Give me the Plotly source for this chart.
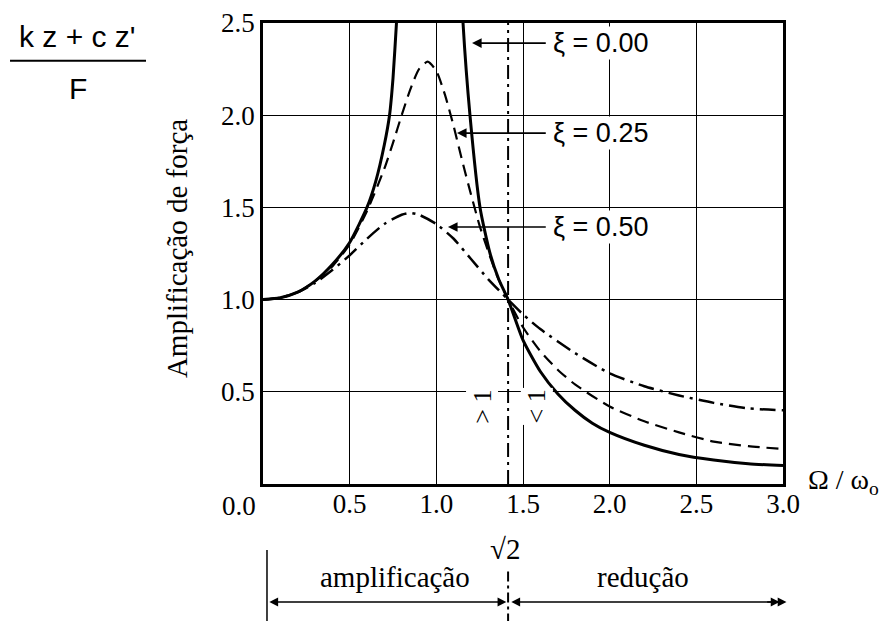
import plotly.graph_objects as go

# ---- data ----
r0_left = [0, 0.1, 0.2, 0.3, 0.4, 0.5, 0.6, 0.65, 0.7, 0.73, 0.75, 0.77, 0.79]
tr0_left = [1.00, 1.01, 1.04, 1.10, 1.19, 1.31, 1.50, 1.64, 1.84, 2.00, 2.20, 2.50, 2.80]
r0_right = [1.14, 1.154, 1.194, 1.252, 1.31, 1.36, 1.414, 1.5, 1.6, 1.7, 1.8, 1.9, 2.0, 2.2, 2.4, 2.6, 2.8, 3.0]
tr0_right = [2.80, 2.50, 2.00, 1.50, 1.25, 1.11, 1.00, 0.78, 0.61, 0.49, 0.40, 0.33, 0.28, 0.21, 0.16, 0.13, 0.11, 0.10]

r25 = [0, 0.1, 0.2, 0.3, 0.4, 0.5, 0.6, 0.7, 0.75, 0.8, 0.85, 0.9, 0.95, 1.0, 1.05, 1.1, 1.15,
       1.2, 1.25, 1.3, 1.35, 1.414, 1.5, 1.6, 1.7, 1.8, 2.0, 2.2, 2.4, 2.6, 2.8, 3.0]
tr25 = [1.00, 1.01, 1.04, 1.10, 1.18, 1.30, 1.48, 1.71, 1.85, 2.00, 2.14, 2.25, 2.29, 2.24, 2.11, 1.94, 1.75,
        1.57, 1.40, 1.26, 1.13, 1.00, 0.85, 0.72, 0.62, 0.54, 0.42, 0.34, 0.28, 0.23, 0.205, 0.19]

r50 = [0, 0.1, 0.2, 0.3, 0.4, 0.5, 0.6, 0.7, 0.8, 0.85, 0.9, 1.0, 1.1, 1.2, 1.3, 1.414,
       1.5, 1.6, 1.8, 2.0, 2.2, 2.4, 2.6, 2.8, 3.0]
tr50 = [1.00, 1.01, 1.04, 1.09, 1.16, 1.24, 1.33, 1.41, 1.46, 1.47, 1.46, 1.41, 1.33, 1.22, 1.11, 1.00,
        0.92, 0.84, 0.71, 0.60, 0.53, 0.48, 0.44, 0.41, 0.40]

xi_labels = ["ξ = 0.00", "ξ = 0.25", "ξ = 0.50"]
label_y = [2.391, 1.903, 1.394]
arrow_tip_x = [1.206, 1.119, 1.067]

x_ticks = [0.5, 1.0, 1.5, 2.0, 2.5, 3.0]
x_ticktext = ["0.5", "1.0", "1.5", "2.0", "2.5", "3.0"]
origin_label = "0.0"
y_ticks = [0.5, 1.0, 1.5, 2.0, 2.5]
y_ticktext = ["0.5", "1.0", "1.5", "2.0", "2.5"]
sqrt2 = 1.414

SERIF = "Liberation Serif"
SANS = "Liberation Sans"

fig = go.Figure()

# xi = 0.00 (solid, two branches)
fig.add_trace(go.Scatter(x=r0_left + [None] + r0_right, y=tr0_left + [None] + tr0_right,
                         mode="lines", line=dict(color="black", width=3, shape="spline", smoothing=0.6),
                         connectgaps=False, showlegend=False, hoverinfo="skip"))
# xi = 0.25 dashed
fig.add_trace(go.Scatter(x=r25, y=tr25, mode="lines",
                         line=dict(color="black", width=2.2, dash="12px,7px", shape="spline", smoothing=0.6),
                         showlegend=False, hoverinfo="skip"))
# xi = 0.50 dash-dot
fig.add_trace(go.Scatter(x=r50, y=tr50, mode="lines",
                         line=dict(color="black", width=2.5, dash="16px,6px,3px,6px", shape="spline", smoothing=0.6),
                         showlegend=False, hoverinfo="skip"))

# vertical dash-dot line at sqrt(2)
fig.add_shape(type="line", xref="x", yref="paper", x0=sqrt2, x1=sqrt2, y0=0, y1=1,
              line=dict(color="black", width=2, dash="14px,5px,3px,5px"), layer="below")
# continuation below the axis
fig.add_shape(type="line", xref="x", yref="paper", x0=sqrt2, x1=sqrt2, y0=-0.19, y1=-0.32,
              line=dict(color="black", width=2, dash="10px,4px,3px,4px"))
# left bar of the bottom arrow
fig.add_shape(type="line", xref="x", yref="paper", x0=0.023, x1=0.023, y0=-0.143, y1=-0.32,
              line=dict(color="black", width=1.5))
# fraction bar
fig.add_shape(type="line", xref="paper", yref="paper", x0=-0.4865, x1=-0.225, y0=0.918, y1=0.918,
              line=dict(color="black", width=2))

annotations = []
# xi labels with arrows
for lab, yy, xt in zip(xi_labels, label_y, arrow_tip_x):
    annotations.append(dict(x=1.66, y=yy, xref="x", yref="y", text=lab, showarrow=False,
                            xanchor="left", yanchor="middle", bgcolor="white",
                            font=dict(family=SANS, size=27, color="black")))
    annotations.append(dict(x=xt, y=yy, ax=1.64, ay=yy, xref="x", yref="y", axref="x", ayref="y",
                            text="", showarrow=True, arrowhead=2, arrowsize=1.2, arrowwidth=1.6,
                            arrowcolor="black"))

# > 1 and < 1 marks
annotations.append(dict(x=1.264, y=0.42, xref="x", yref="y", text="> 1", textangle=-90, showarrow=False,
                        bgcolor="white", font=dict(family=SERIF, size=26, color="black")))
annotations.append(dict(x=1.58, y=0.42, xref="x", yref="y", text="< 1", textangle=-90, showarrow=False,
                        bgcolor="white", font=dict(family=SERIF, size=26, color="black")))

# origin label (sits left of the corner)
annotations.append(dict(x=0, y=0, xref="x", yref="y", text=origin_label, showarrow=False,
                        xanchor="center", yanchor="middle", xshift=-24, yshift=-22,
                        font=dict(family=SERIF, size=27, color="black")))
# x axis label
annotations.append(dict(x=1.045, y=0.005, xref="paper", yref="paper", text="Ω / ω<sub>o</sub>",
                        showarrow=False, xanchor="left", yanchor="middle",
                        font=dict(family=SERIF, size=28, color="black")))
# y axis title
annotations.append(dict(x=-0.165, y=0.51, xref="paper", yref="paper", text="Amplificação de força",
                        textangle=-90, showarrow=False, xanchor="center", yanchor="middle",
                        font=dict(family=SERIF, size=29, color="black")))
# fraction at top-left
annotations.append(dict(x=-0.356, y=0.970, xref="paper", yref="paper", text="k z + c z'",
                        showarrow=False, xanchor="center", yanchor="middle",
                        font=dict(family=SANS, size=30, color="black")))
annotations.append(dict(x=-0.356, y=0.857, xref="paper", yref="paper", text="F",
                        showarrow=False, xanchor="center", yanchor="middle",
                        font=dict(family=SANS, size=30, color="black")))
# bottom: sqrt2, amplificacao, reducao
annotations.append(dict(x=1.396, y=-0.141, xref="x", yref="paper", text="√2",
                        showarrow=False, xanchor="center", yanchor="middle",
                        font=dict(family=SERIF, size=29, color="black")))
annotations.append(dict(x=0.76, y=-0.2017, xref="x", yref="paper", text="amplificação",
                        showarrow=False, xanchor="center", yanchor="middle",
                        font=dict(family=SERIF, size=29, color="black")))
annotations.append(dict(x=2.19, y=-0.2017, xref="x", yref="paper", text="redução",
                        showarrow=False, xanchor="center", yanchor="middle",
                        font=dict(family=SERIF, size=29, color="black")))
# bottom arrows
annotations.append(dict(x=sqrt2 - 0.01, y=-0.256, ax=0.028, ay=0, xref="x", yref="paper", axref="x",
                        ayref="pixel", text="", showarrow=True, arrowhead=2, startarrowhead=2,
                        arrowside="end+start", arrowsize=1.1, arrowwidth=1.6, arrowcolor="black"))
annotations.append(dict(x=3.02, y=-0.256, ax=sqrt2 + 0.01, ay=0, xref="x", yref="paper", axref="x",
                        ayref="pixel", text="", showarrow=True, arrowhead=2, startarrowhead=2,
                        arrowside="end+start", arrowsize=1.1, arrowwidth=1.6, arrowcolor="black"))
annotations.append(dict(x=2.98, y=-0.256, ax=2.9, ay=0, xref="x", yref="paper", axref="x",
                        ayref="pixel", text="", showarrow=True, arrowhead=2,
                        arrowsize=1.1, arrowwidth=1.6, arrowcolor="black"))

fig.update_layout(
    width=892, height=621,
    margin=dict(l=255, r=117, t=15, b=145, autoexpand=False),
    paper_bgcolor="white", plot_bgcolor="white",
    annotations=annotations,
    showlegend=False,
)
fig.update_xaxes(range=[0, 3.0], tickvals=x_ticks, ticktext=x_ticktext, showgrid=True,
                 gridcolor="black", gridwidth=1.2, showline=True, linecolor="black", linewidth=2.5,
                 mirror=True, ticks="", zeroline=False, automargin=False, ticklabeloverflow="allow",
                 ticklabelstandoff=-6,
                 tickfont=dict(family=SERIF, size=27, color="black"))
fig.update_yaxes(range=[0, 2.5], tickvals=y_ticks, ticktext=y_ticktext, showgrid=True,
                 gridcolor="black", gridwidth=1.2, showline=True, linecolor="black", linewidth=2.5,
                 mirror=True, ticks="", zeroline=False, automargin=False, ticklabeloverflow="allow",
                 tickfont=dict(family=SERIF, size=27, color="black"))

fig.write_html("out.html")
